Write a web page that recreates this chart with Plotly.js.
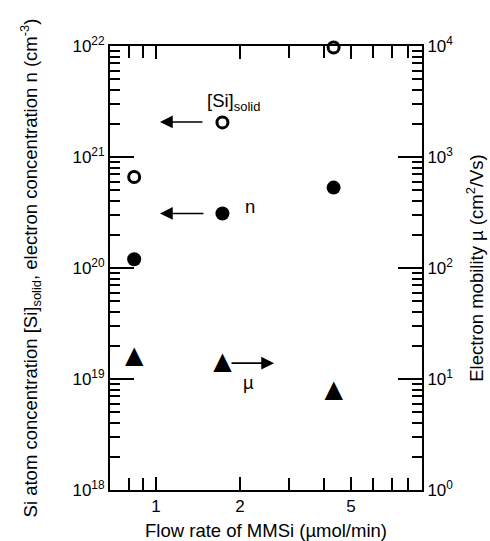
<!DOCTYPE html>
<html>
<head>
<meta charset="utf-8">
<script src="https://cdn.plot.ly/plotly-3.0.1.min.js"></script>
<style>html,body{margin:0;padding:0;background:#fff;}#chart{width:490px;height:541px;}</style>
</head>
<body>
<div id="chart"></div>
<script>
// Data
const flowRate = [0.835, 1.73, 4.33];          // MMSi flow rate (µmol/min)
const siSolid = [6.6e20, 2.05e21, 9.7e21];     // [Si]solid (cm^-3)
const electronConc = [1.2e20, 3.1e20, 5.3e20]; // n (cm^-3)
const mobility = [15.8, 13.9, 7.8];            // µ (cm^2/Vs)

const xTickVals = [1, 2, 5];
const xTickText = ['1', '2', '5'];
const xMinorVals = [0.8, 0.9, 3, 4, 6, 7, 8];
const yLeftDecades = [18, 19, 20, 21, 22];
const yRightDecades = [0, 1, 2, 3, 4];

const FONT = 'Liberation Sans, Arial, Helvetica, sans-serif';

function decadeVals(ds) { return ds.map(d => Math.pow(10, d)); }
function decadeText(ds) { return ds.map(d => '10<sup>' + d + '</sup>'); }
function minorVals(ds) {
  const out = [];
  for (let i = 0; i < ds.length - 1; i++) for (let k = 2; k <= 9; k++) out.push(k * Math.pow(10, ds[i]));
  return out;
}

const traces = [
  { x: flowRate, y: siSolid, type: 'scatter', mode: 'markers', name: '[Si]solid', cliponaxis: false,
    marker: { symbol: 'circle-open', size: 11, color: '#000', line: { width: 3, color: '#000' } } },
  { x: flowRate, y: electronConc, type: 'scatter', mode: 'markers', name: 'n', cliponaxis: false,
    marker: { symbol: 'circle', size: 14, color: '#000', line: { width: 0 } } },
  { x: flowRate, y: mobility, type: 'scatter', mode: 'text', name: 'µ', yaxis: 'y2', cliponaxis: false,
    text: mobility.map(() => '\u25B2'), textposition: 'middle center',
    textfont: { family: 'DejaVu Sans', size: 24, color: '#000' } }
];

const xr = [Math.log10(0.684), Math.log10(8.98)];

const layout = {
  width: 490, height: 541,
  margin: { l: 110, r: 68, t: 46, b: 51 },
  paper_bgcolor: '#fff', plot_bgcolor: '#fff',
  showlegend: false,
  font: { family: FONT, size: 17, color: '#000' },
  xaxis: {
    type: 'log', range: xr,
    tickmode: 'array', tickvals: xTickVals, ticktext: xTickText,
    ticks: 'inside', ticklen: 13, tickwidth: 2, tickcolor: '#000',
    minor: { tickmode: 'array', tickvals: xMinorVals, ticks: 'inside', ticklen: 12, tickwidth: 2, tickcolor: '#000', showgrid: false },
    showline: true, linewidth: 2, linecolor: '#000', mirror: 'ticks',
    showgrid: false, zeroline: false,
    tickfont: { family: FONT, size: 17, color: '#000' },
    title: { text: 'Flow rate of MMSi (µmol/min)', font: { family: FONT, size: 18.5, color: '#000' }, standoff: 18 }
  },
  xaxis2: {
    type: 'log', range: xr, overlaying: 'x', anchor: 'y', side: 'bottom',
    tickmode: 'array', tickvals: [1], ticktext: [''],
    ticks: 'inside', ticklen: 22, tickwidth: 2, tickcolor: '#000',
    showline: false, mirror: 'ticks', showgrid: false, zeroline: false, showticklabels: false
  },
  yaxis: {
    type: 'log', range: [18, 22],
    tickmode: 'array', tickvals: decadeVals(yLeftDecades), ticktext: decadeText(yLeftDecades),
    ticks: 'inside', ticklen: 24, tickwidth: 2, tickcolor: '#000',
    minor: { tickmode: 'array', tickvals: minorVals(yLeftDecades), ticks: 'inside', ticklen: 10, tickwidth: 2, tickcolor: '#000', showgrid: false },
    showline: true, linewidth: 2, linecolor: '#000',
    showgrid: false, zeroline: false,
    tickfont: { family: FONT, size: 17, color: '#000' },
    title: { text: 'Si atom concentration [Si]<sub>solid</sub>, electron concentration n (cm<sup>-3</sup>)', font: { family: FONT, size: 18.5, color: '#000' }, standoff: 30 }
  },
  yaxis2: {
    type: 'log', range: [0, 4], overlaying: 'y', side: 'right', anchor: 'x',
    tickmode: 'array', tickvals: decadeVals(yRightDecades), ticktext: decadeText(yRightDecades),
    ticks: 'inside', ticklen: 24, tickwidth: 2, tickcolor: '#000',
    minor: { tickmode: 'array', tickvals: minorVals(yRightDecades), ticks: 'inside', ticklen: 10, tickwidth: 2, tickcolor: '#000', showgrid: false },
    showline: true, linewidth: 2, linecolor: '#000',
    showgrid: false, zeroline: false,
    tickfont: { family: FONT, size: 17, color: '#000' },
    title: { text: 'Electron mobility µ (cm<sup>2</sup>/Vs)', font: { family: FONT, size: 18.5, color: '#000' }, standoff: 18 }
  },
  annotations: [
    { xref: 'x', yref: 'y', x: Math.log10(1.033), y: Math.log10(2.07e21), ax: 44, ay: 0,
      showarrow: true, arrowhead: 2, arrowsize: 1.6, arrowwidth: 1.6, arrowcolor: '#000', text: '' },
    { xref: 'x', yref: 'y', x: Math.log10(1.033), y: Math.log10(3.1e20), ax: 45, ay: 0,
      showarrow: true, arrowhead: 2, arrowsize: 1.6, arrowwidth: 1.6, arrowcolor: '#000', text: '' },
    { xref: 'x', yref: 'y', x: 0.423, y: Math.log10(1.39e19), ax: -44, ay: 0,
      showarrow: true, arrowhead: 2, arrowsize: 1.6, arrowwidth: 1.6, arrowcolor: '#000', text: '' },
    { xref: 'x', yref: 'y', x: 0.1756, y: 21.5, xanchor: 'left', yanchor: 'middle', showarrow: false,
      text: '[Si]<sub>solid</sub>', font: { family: FONT, size: 18.5, color: '#000' } },
    { xref: 'x', yref: 'y', x: 0.312, y: 20.55, xanchor: 'left', yanchor: 'middle', showarrow: false,
      text: 'n', font: { family: FONT, size: 18.5, color: '#000' } },
    { xref: 'x', yref: 'y', x: 0.33, y: 18.973, xanchor: 'center', yanchor: 'middle', showarrow: false,
      text: 'µ', font: { family: FONT, size: 18.5, color: '#000' } }
  ]
};

Plotly.newPlot('chart', traces, layout, { staticPlot: true, displayModeBar: false });
</script>
</body>
</html>
